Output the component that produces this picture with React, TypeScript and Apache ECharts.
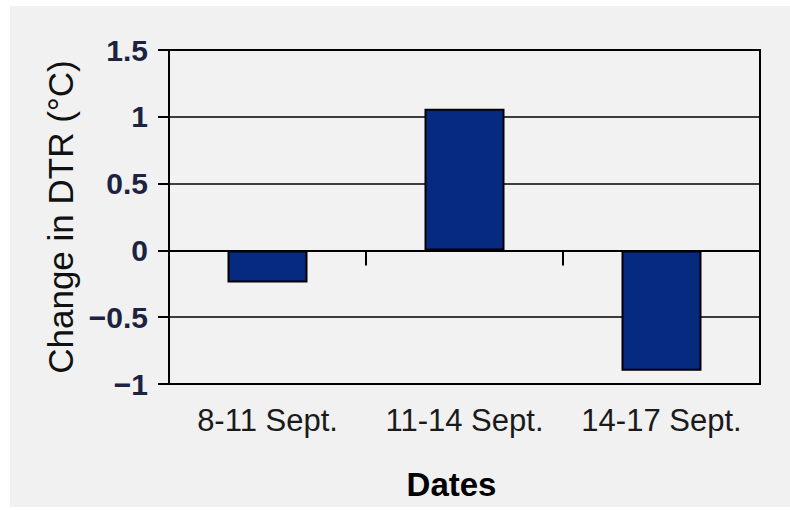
import React, { useEffect, useRef } from "react";
import * as echarts from "echarts";

const categories = ["8-11 Sept.", "11-14 Sept.", "14-17 Sept."];
const dtrChange = [-0.24, 1.06, -0.9];
const yTicks = { min: -1, max: 1.5, interval: 0.5 };
const xName = "Dates";
const yName = "Change in DTR (°C)";

export default function App() {
  const ref = useRef<HTMLDivElement>(null);
  useEffect(() => {
    if (!ref.current) return;
    const chart = echarts.init(ref.current, null, { renderer: "svg" });
    const font = "'Liberation Sans', Arial, Helvetica, sans-serif";
    chart.setOption({
      animation: false,
      backgroundColor: "#ffffff",
      graphic: [
        {
          type: "rect",
          z: -10,
          silent: true,
          shape: { x: 10, y: 6, width: 780, height: 501 },
          style: { fill: "#f1f1f1" },
        },
      ],
      grid: {
        left: 169,
        top: 50,
        width: 591,
        height: 334,
        show: true,
        backgroundColor: "#f2f2f2",
        borderColor: "#000",
        borderWidth: 2,
      },
      xAxis: [
        {
          type: "category",
          data: categories,
          position: "bottom",
          axisLine: { show: true, onZero: false, lineStyle: { color: "#000", width: 2 } },
          axisTick: { show: false },
          axisLabel: {
            fontFamily: font,
            fontSize: 31,
            color: "#1a1a1a",
            margin: 21,
            interval: 0,
          },
          name: xName,
          nameLocation: "middle",
          nameGap: 84,
          nameTextStyle: {
            fontFamily: font,
            fontSize: 33,
            fontWeight: "bold",
            color: "#000",
            padding: [0, 26, 0, 0],
          },
          splitLine: { show: false },
        },
        {
          type: "category",
          data: categories,
          position: "top",
          axisLine: { show: true, onZero: true, lineStyle: { color: "#000", width: 2 } },
          axisTick: { show: true, inside: true, length: 15, lineStyle: { color: "#000", width: 2 } },
          axisLabel: { show: false },
          splitLine: { show: false },
        },
      ],
      yAxis: {
        type: "value",
        min: yTicks.min,
        max: yTicks.max,
        interval: yTicks.interval,
        axisLine: { show: true, lineStyle: { color: "#000", width: 2 } },
        axisTick: { show: true, length: 11, lineStyle: { color: "#000", width: 2 } },
        splitLine: { show: true, lineStyle: { color: "#000", width: 1.5 } },
        axisLabel: {
          fontFamily: font,
          fontSize: 30,
          fontWeight: "bold",
          color: "#1c2240",
          margin: 21,
          formatter: (v: number) => String(v).replace("-", "\u2212"),
        },
        name: yName,
        nameLocation: "middle",
        nameGap: 90,
        nameRotate: 90,
        nameTextStyle: {
          fontFamily: font,
          fontSize: 35,
          color: "#111",
        },
      },
      series: [
        {
          type: "bar",
          xAxisIndex: 0,
          data: dtrChange,
          barWidth: 80,
          itemStyle: { color: "#062a80", borderColor: "#000", borderWidth: 2 },
        },
      ],
    });
    return () => chart.dispose();
  }, []);
  return (
    <div
      ref={ref}
      style={{ position: "fixed", left: 0, top: 0, width: 790, height: 510 }}
    />
  );
}
